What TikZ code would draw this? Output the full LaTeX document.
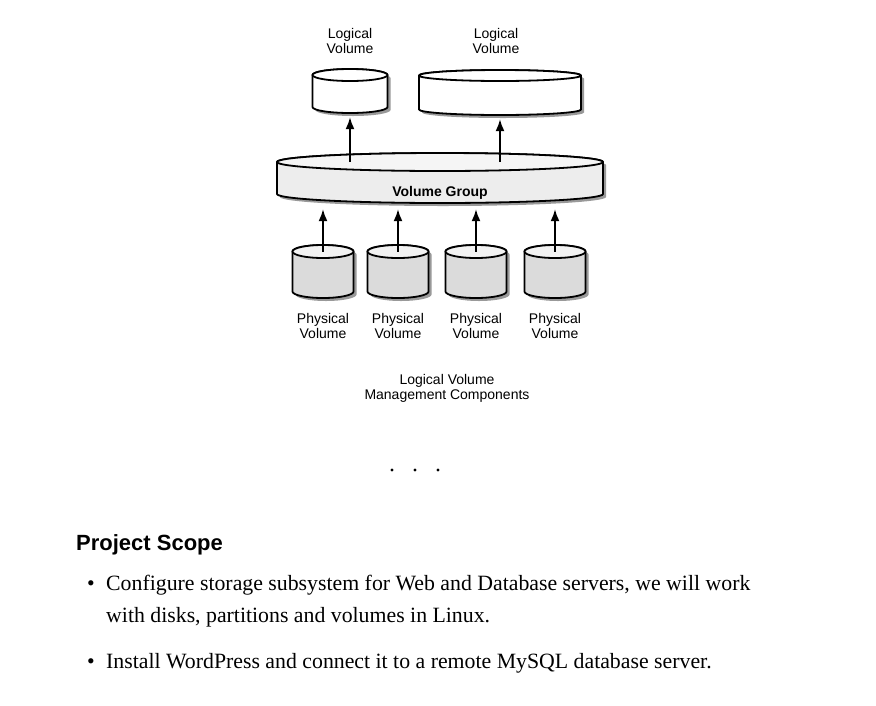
\documentclass[tikz,border=0pt]{standalone}
\usepackage{fontspec}
\newfontfamily\diagfont{Liberation Sans}
\newfontfamily\bodyfont{Liberation Serif}
\usetikzlibrary{arrows.meta,positioning,calc}
\tikzset{x=1pt, y=-1pt, node distance=15pt,
  rim/.style={line width=1.8pt, line join=round},
  lab/.style={font=\diagfont\fontsize{14}{15}\selectfont, align=center, inner sep=0pt},
  feed/.style={-{Latex[length=12pt,width=9pt]}, line width=1.6pt},
  para/.style={font=\bodyfont\fontsize{21.8}{32}\selectfont, inner sep=0pt, anchor=base west}
}
% #1 name, #2/#3 centre, #4 width, #5 height, #6 cap radius, #7 body fill, #8 cap fill
\newcommand{\lvmdisk}[8]{%
  \pgfmathsetmacro\dskrx{#4/2}%
  \pgfmathsetmacro\dskty{#3-#5/2+#6}%
  \pgfmathsetmacro\dskby{#3+#5/2-#6}%
  \pgfmathsetmacro\dskl{#2-#4/2}%
  \pgfmathsetmacro\dskr{#2+#4/2}%
  \fill[black!40, shift={(3,3)}] (\dskl,\dskty) -- (\dskl,\dskby)
    arc[start angle=180, end angle=0, x radius=\dskrx, y radius=#6] -- (\dskr,\dskty)
    arc[start angle=0, end angle=-180, x radius=\dskrx, y radius=#6] -- cycle;
  \filldraw[rim, fill=#7] (\dskl,\dskty) -- (\dskl,\dskby)
    arc[start angle=180, end angle=0, x radius=\dskrx, y radius=#6] -- (\dskr,\dskty)
    arc[start angle=0, end angle=-180, x radius=\dskrx, y radius=#6] -- cycle;
  \filldraw[rim, fill=#8] (#2,\dskty) ellipse[x radius=\dskrx, y radius=#6];
  \node[inner sep=0pt, minimum width=#4pt, minimum height=#5pt] (#1) at (#2,#3) {};
  \coordinate (#1-top) at (#2,\dskty);
}

\begin{document}
\begin{tikzpicture}
\useasboundingbox (0,0) rectangle (876,705);
\fill[white] (0,0) rectangle (876,705);

% logical volumes
\lvmdisk{lv1}{350}{91}{75}{44}{6}{white}{white}
\lvmdisk{lv2}{500}{92.5}{162}{45}{5.5}{white}{white}
\node[lab, above=15pt of lv1] {Logical\\Volume};
\node[lab, above=16pt of lv2, xshift=-4pt] {Logical\\Volume};

% volume group
\lvmdisk{vg}{440}{178}{326}{50}{9}{black!7}{black!4}
\node[lab, font=\diagfont\bfseries\fontsize{14}{15}\selectfont, anchor=base] at ($(vg.center)+(0,18)$) {Volume Group};

% physical volumes
\foreach \n/\x in {1/323,2/398,3/476,4/555}{
  \lvmdisk{pv\n}{\x}{271.5}{61}{53}{6.5}{black!14}{black!5}
  \node[lab, below=15pt of pv\n] {Physical\\Volume};
  \draw[feed, shorten >=6pt] (pv\n-top) -- (pv\n |- vg.south);
}

\draw[feed, shorten >=4pt] (lv1 |- vg-top) -- (lv1.south);
\draw[feed, shorten >=4pt] (lv2 |- vg-top) -- (lv2.south);

\node[lab, anchor=north] (cap) at (447,374) {Logical Volume\\Management Components};

% separator
\foreach \x in {392,415,438}
  \fill (\x,470) circle (1.6);

% text below
\node[inner sep=0pt, anchor=base west, font=\diagfont\bfseries\fontsize{22}{26}\selectfont] (scope) at (76,550) {Project Scope};
\node[para, anchor=base] (dot1) at (91,590) {•};
\node[para] (item1) at (106,590) {Configure storage subsystem for Web and Database servers, we will work};
\node[para] (item1b) at (106,622) {with disks, partitions and volumes in Linux.};
\node[para, anchor=base] (dot2) at (91,668) {•};
\node[para] (item2) at (106,668) {Install WordPress and connect it to a remote MySQL database server.};
\end{tikzpicture}
\end{document}
